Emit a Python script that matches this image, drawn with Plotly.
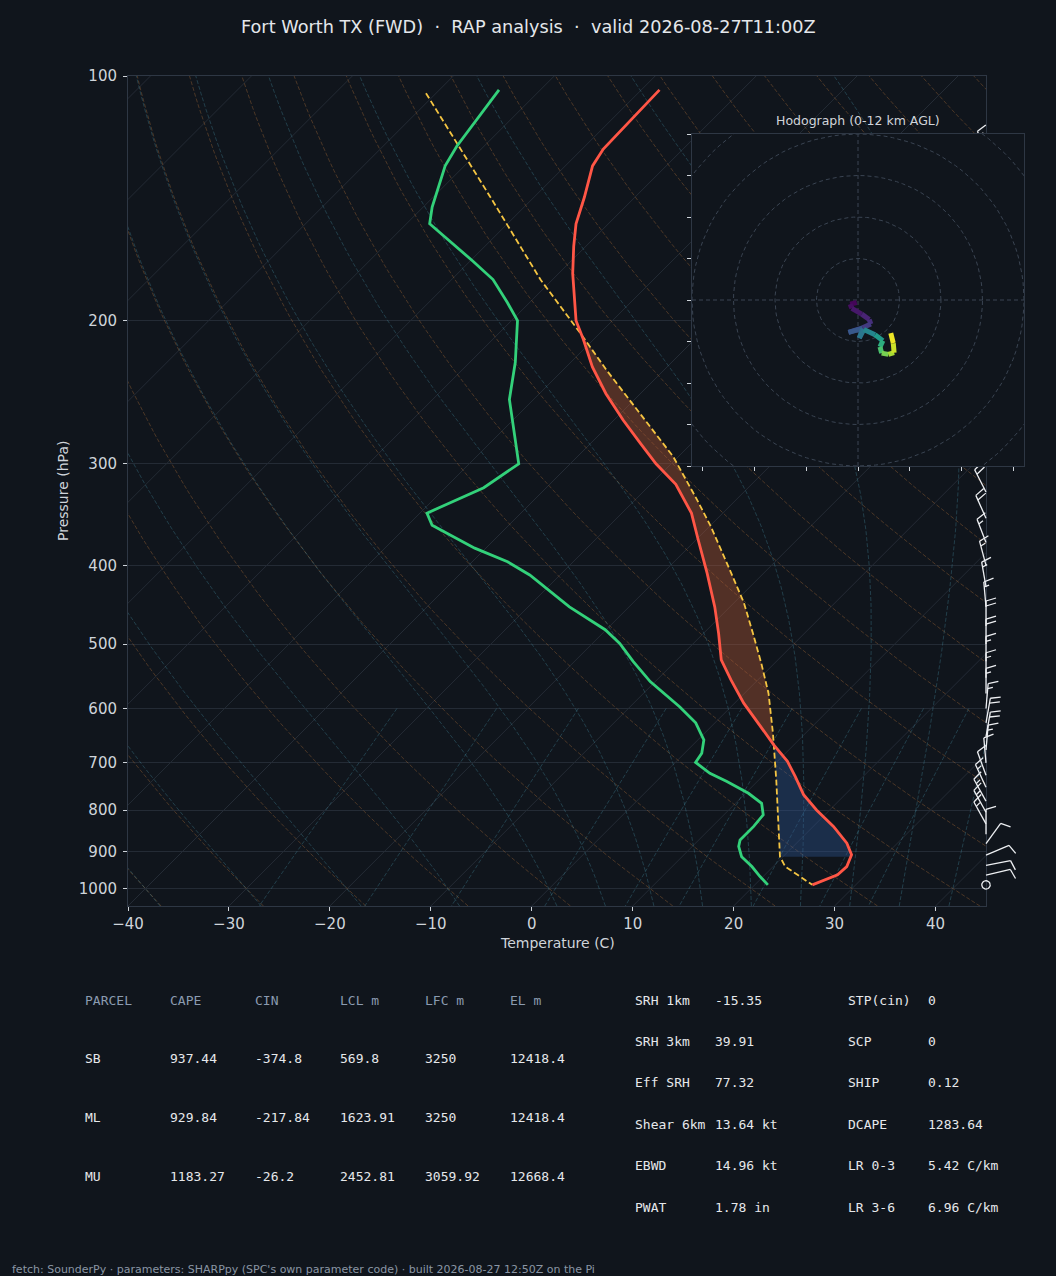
import numpy as np
import plotly.graph_objects as go
from plotly.colors import sample_colorscale

W, H = 1056, 1276
BG = "#10151c"
GRID = "#242b35"
SPINE = "#2e3744"
TICK = "#cfd4da"
SANS = "DejaVu Sans"
MONO = "DejaVu Sans Mono"

# pixel boxes of the skew-T, the barb strip and the hodograph inset
SK_L, SK_R, SK_T, SK_B = 128, 986, 76, 906
BARB_R = 1040
HO_L, HO_R, HO_T, HO_B = 692, 1024, 134, 466

T_MIN, T_MAX = -40, 45
P_BOT, P_TOP = 1050, 100
PX_PER_C = (SK_R - SK_L) / (T_MAX - T_MIN)
PX_PER_DEC = (SK_B - SK_T) / np.log10(P_BOT / P_TOP)
SKEW = PX_PER_DEC / PX_PER_C  # 45 degree isotherms

title = "Fort Worth TX (FWD)  ·  RAP analysis  ·  valid 2026-08-27T11:00Z"
footer = "fetch: SounderPy · parameters: SHARPpy (SPC's own parameter code) · built 2026-08-27 12:50Z on the Pi"

# sounding (hPa, deg C)
temp_p = [104, 123, 129, 141, 152, 162, 175, 187, 200, 211, 228, 246, 265, 283, 300, 318, 332, 345, 372, 409,
          450, 485, 523, 553, 591, 632, 665, 697, 728, 766, 800, 838, 879, 908, 939, 961, 989]
temp_c = [-68.2, -67.9, -67.3, -65.0, -63.2, -61.2, -58.6, -56.1, -53.6, -51.0, -47.4, -43.4, -39.1, -35.1, -31.5,
          -27.5, -25.2, -23.1, -19.8, -15.6, -11.5, -8.5, -5.6, -2.7, 0.9, 4.9, 8.0, 11.0, 13.3, 15.9, 18.7, 22.0,
          25.0, 26.6, 27.3, 27.2, 25.7]

dwpt_p = [104, 122, 129, 145, 152, 160, 169, 178, 190, 200, 225, 250, 300, 321, 345, 357, 381, 396, 411, 450,
          480, 499, 525, 556, 583, 597, 625, 656, 681, 699, 721, 738, 763, 785, 811, 838, 871, 887, 913, 939,
          966, 989]
dwpt_c = [-84.1, -82.7, -81.9, -79.1, -77.7, -73.8, -69.7, -65.9, -62.2, -59.4, -55.5, -52.4, -45.1, -46.2, -49.3,
          -47.6, -41.1, -36.5, -33.0, -25.9, -20.1, -17.3, -14.2, -10.5, -6.9, -5.1, -1.9, 0.6, 1.7, 2.0, 4.5, 7.0,
          10.3, 12.6, 13.9, 14.1, 14.1, 14.6, 15.9, 17.9, 19.7, 21.3]

parcel_p = [105, 142, 178, 207, 230, 260, 294, 332, 358, 405, 445, 485, 528, 575, 644, 734, 823, 913, 939, 989]
parcel_c = [-91.0, -73.9, -61.2, -52.0, -45.7, -38.1, -30.5, -23.9, -19.9, -13.7, -9.0, -5.1, -1.3, 2.4, 6.8,
            11.7, 15.9, 19.7, 21.2, 25.7]

# shading limits (hPa)
p_lcl, p_lfc, p_el = 913, 665, 211

# wind barbs (hPa, direction from, knots)
barb_p = [125, 150, 175, 200, 225, 250, 275, 300, 325, 350, 375, 400, 425, 450, 475, 500, 525, 550, 575, 600,
          625, 650, 675, 700, 725, 750, 780, 805, 832, 857, 880, 909, 936, 962, 989]
barb_dir = [340, 320, 315, 320, 330, 335, 330, 331, 333, 336, 339, 345, 350, 355, 0, 0, 0, 0, 0, 5,
            10, 10, 5, 355, 340, 335, 331, 331, 331, 0, 36, 67, 79, 77, 0]
barb_kt = [15, 20, 20, 20, 20, 20, 20, 20, 20, 20, 15, 15, 15, 15, 20, 20, 15, 15, 15, 15,
           20, 20, 15, 10, 10, 15, 15, 15, 15, 10, 10, 10, 10, 10, 0]

# hodograph trace (u, v) and height in km
hodo_u = [-0.3, -1.9, -1.5, 0.9, 2.7, 3.1, 1.1, -2.3, 1.1, 0.3, 1.4, 4.1, 6.0, 5.3, 5.7, 7.3, 8.7, 8.5, 7.9]
hodo_v = [-0.6, -1.0, -2.0, -3.4, -4.7, -5.8, -6.7, -7.8, -6.9, -9.2, -7.1, -8.4, -9.8, -11.3, -12.8, -13.1,
          -12.7, -10.4, -8.0]
hodo_z = [0, 0.3, 0.6, 1.0, 1.4, 1.8, 2.3, 3.0, 3.6, 4.5, 5.0, 6.0, 7.0, 8.0, 9.0, 10.0, 10.8, 11.4, 12.0]

# parameter tables
parcel_cols = ["PARCEL", "CAPE", "CIN", "LCL m", "LFC m", "EL m"]
parcel_names = ["SB", "ML", "MU"]
cape = [937.44, 929.84, 1183.27]
cin = [-374.8, -217.84, -26.2]
lcl_m = [569.8, 1623.91, 2452.81]
lfc_m = [3250, 3250, 3059.92]
el_m = [12418.4, 12418.4, 12668.4]
kin_labels = ["SRH 1km", "SRH 3km", "Eff SRH", "Shear 6km", "EBWD", "PWAT"]
kin_values = ["-15.35", "39.91", "77.32", "13.64 kt", "14.96 kt", "1.78 in"]
idx_labels = ["STP(cin)", "SCP", "SHIP", "DCAPE", "LR 0-3", "LR 3-6"]
idx_values = ["0", "0", "0.12", "1283.64", "5.42 C/km", "6.96 C/km"]


def skew(t, p):
    return np.asarray(t, float) + SKEW * (np.log10(P_BOT) - np.log10(np.asarray(p, float)))


def merge(lines):
    xs, ys = [], []
    for x, y in lines:
        xs += list(x) + [None]
        ys += list(y) + [None]
    return xs, ys


def t_at(ps, ts, p):
    return float(np.interp(np.log(p), np.log(ps), ts))


def inside(ps, ts, lo, hi):
    return [(p, t) for p, t in zip(ps, ts) if lo < p < hi]


fig = go.Figure()

# ---- background: isotherms, dry/moist adiabats, mixing ratio lines
iso = []
for t in range(-130, 50, 10):
    iso.append((skew([t, t], [P_BOT, P_TOP]), [P_BOT, P_TOP]))
xs, ys = merge(iso)
fig.add_trace(go.Scatter(x=xs, y=ys, mode="lines", line=dict(color=GRID, width=1), hoverinfo="skip"))

pp = np.geomspace(P_BOT, P_TOP, 80)
dry = []
for t0 in range(-40, 250, 10):
    tt = (t0 + 273.15) * (pp / 1000.0) ** 0.2857 - 273.15
    dry.append((skew(tt, pp), pp))
xs, ys = merge(dry)
fig.add_trace(go.Scatter(x=xs, y=ys, mode="lines", hoverinfo="skip",
                         line=dict(color="rgba(190,120,60,0.34)", width=1, dash="4px,2px")))


def moist_profile(t0c, pres):
    Rd, Cp, Lv, eps = 287.04, 1005.7, 2.501e6, 0.622

    def f(p, t):
        es = 6.112 * np.exp(17.67 * (t - 273.15) / (t - 29.65))
        rs = eps * es / (p - es)
        return (Rd * t + Lv * rs) / (Cp + Lv * Lv * rs * eps / (Rd * t * t)) / p

    out = [t0c + 273.15]
    t = t0c + 273.15
    for p0, p1 in zip(pres[:-1], pres[1:]):
        h = p1 - p0
        k1 = f(p0, t)
        k2 = f(p0 + h / 2, t + h * k1 / 2)
        k3 = f(p0 + h / 2, t + h * k2 / 2)
        k4 = f(p1, t + h * k3)
        t = t + h * (k1 + 2 * k2 + 2 * k3 + k4) / 6
        out.append(t)
    return np.array(out) - 273.15


p_up = np.linspace(1000, P_TOP, 181)
p_dn = np.linspace(1000, P_BOT, 6)
moist = []
for t0 in list(range(-40, 0, 10)) + list(range(0, 46, 5)):
    up = moist_profile(t0, p_up)
    dn = moist_profile(t0, p_dn)
    pm = np.concatenate([p_dn[::-1], p_up[1:]])
    tm = np.concatenate([dn[::-1], up[1:]])
    moist.append((skew(tm, pm), pm))
xs, ys = merge(moist)
fig.add_trace(go.Scatter(x=xs, y=ys, mode="lines", hoverinfo="skip",
                         line=dict(color="rgba(70,150,170,0.32)", width=1, dash="4px,2px")))

pw = np.linspace(600, P_BOT, 20)
mix = []
for w in [0.0004, 0.001, 0.002, 0.004, 0.007, 0.01, 0.016, 0.024, 0.032]:
    e = pw * w / (0.622 + w)
    lg = np.log(e / 6.112)
    td = 243.5 * lg / (17.67 - lg)
    mix.append((skew(td, pw), pw))
xs, ys = merge(mix)
fig.add_trace(go.Scatter(x=xs, y=ys, mode="lines", hoverinfo="skip",
                         line=dict(color="rgba(70,150,170,0.32)", width=1, dash="4px,2px")))

# ---- CAPE / CIN shading
cape_poly = ([(p_el, t_at(parcel_p, parcel_c, p_el))] + inside(parcel_p, parcel_c, p_el, p_lfc)
             + [(p_lfc, t_at(parcel_p, parcel_c, p_lfc))] + inside(temp_p, temp_c, p_el, p_lfc)[::-1])
cin_poly = ([(p_lfc, t_at(parcel_p, parcel_c, p_lfc))] + inside(parcel_p, parcel_c, p_lfc, p_lcl)
            + [(p_lcl, t_at(parcel_p, parcel_c, p_lcl)), (p_lcl, t_at(temp_p, temp_c, p_lcl))]
            + inside(temp_p, temp_c, p_lfc, p_lcl)[::-1])
for poly, col in [(cape_poly, "rgba(182,91,56,0.4)"), (cin_poly, "rgba(47,86,150,0.38)")]:
    pq = [q[0] for q in poly]
    tq = [q[1] for q in poly]
    fig.add_trace(go.Scatter(x=skew(tq, pq), y=pq, mode="lines", fill="toself", fillcolor=col,
                             line=dict(width=0), hoverinfo="skip"))

# ---- profiles
fig.add_trace(go.Scatter(x=skew(parcel_c, parcel_p), y=parcel_p, mode="lines",
                         line=dict(color="#f5c542", width=1.8, dash="6px,3px"), name="Parcel"))
fig.add_trace(go.Scatter(x=skew(dwpt_c, dwpt_p), y=dwpt_p, mode="lines",
                         line=dict(color="#33d17a", width=2.8), name="Dewpoint"))
fig.add_trace(go.Scatter(x=skew(temp_c, temp_p), y=temp_p, mode="lines",
                         line=dict(color="#ff5646", width=2.8), name="Temperature"))

# ---- wind barbs at the right edge (own overlay axes so they are not clipped at 45 C)
L, BH, BW, SP = 25.0, 10.0, 6.0, 5.0
bx, by = [], []


def add_seg(p0, pts):
    for dx, dy in pts:
        bx.append(T_MAX + dx / PX_PER_C)
        by.append(10 ** (np.log10(p0) - dy / PX_PER_DEC))
    bx.append(None)
    by.append(None)


for p0, d, s in zip(barb_p, barb_dir, barb_kt):
    s = 5 * round(s / 5)
    if s == 0:
        a = np.linspace(0, 2 * np.pi, 25)
        add_seg(p0, zip(4.2 * np.cos(a), 4.2 * np.sin(a)))
        continue
    ux, uy = np.sin(np.radians(d)), np.cos(np.radians(d))
    rx, ry = uy, -ux
    tx, ty = L * ux, L * uy
    add_seg(p0, [(0, 0), (tx, ty)])
    nfull, half = s // 10, (s % 10) >= 5
    off = 0.0
    for i in range(nfull):
        px, py = tx - off * ux, ty - off * uy
        add_seg(p0, [(px, py), (px + BH * rx + BW / 2 * ux, py + BH * ry + BW / 2 * uy)])
        off += SP
    if half:
        if nfull == 0:
            off = 1.5 * SP
        px, py = tx - off * ux, ty - off * uy
        add_seg(p0, [(px, py), (px + BH / 2 * rx + BW / 4 * ux, py + BH / 2 * ry + BW / 4 * uy)])

fig.add_trace(go.Scatter(x=bx, y=by, mode="lines", xaxis="x2", yaxis="y2",
                         line=dict(color="#eef0f3", width=1.3), hoverinfo="skip"))

# ---- hodograph inset
R = 40
fig.add_trace(go.Scatter(x=[-R, R, R, -R, -R], y=[-R, -R, R, R, -R], mode="lines", fill="toself",
                         fillcolor=BG, line=dict(width=0), xaxis="x3", yaxis="y3", hoverinfo="skip"))
ang = np.linspace(0, 2 * np.pi, 121)
rings = [(r * np.cos(ang), r * np.sin(ang)) for r in (10, 20, 30, 40, 50)]
rings += [([-R, R], [0, 0]), ([0, 0], [-R, R])]
xs, ys = merge(rings)
fig.add_trace(go.Scatter(x=xs, y=ys, mode="lines", xaxis="x3", yaxis="y3", hoverinfo="skip",
                         line=dict(color="#3a4452", width=1, dash="4px,3px")))
seg_cols = sample_colorscale("Viridis", [(hodo_z[i] + hodo_z[i + 1]) / 2 / 12 for i in range(len(hodo_z) - 1)])
for i in range(len(hodo_u) - 1):
    fig.add_trace(go.Scatter(x=hodo_u[i:i + 2], y=hodo_v[i:i + 2], mode="lines", xaxis="x3", yaxis="y3",
                             line=dict(color=seg_cols[i], width=5), hoverinfo="skip"))

# ---- text
ann = []


def note(x, y, text, size, color, family=SANS, xanchor="left", **kw):
    ann.append(dict(x=x / W, y=1 - y / H, xref="paper", yref="paper", text=text, showarrow=False,
                    xanchor=xanchor, yanchor="middle", font=dict(size=size, color=color, family=family), **kw))


note(W / 2, 27, title, 17.7, "#e4e7eb", xanchor="center")
note((SK_L + SK_R) / 2, 943, "Temperature (C)", 14, TICK, xanchor="center")
note(63, (SK_T + SK_B) / 2, "Pressure (hPa)", 14, TICK, xanchor="center", textangle=-90)
note((HO_L + HO_R) / 2, 120, "Hodograph (0-12 km AGL)", 12.5, "#d0d4da", xanchor="center")

HDR = "#8b9bb0"
VAL = "#e6e8eb"
for j, c in enumerate(parcel_cols):
    note(83 + 85 * j, 1000, c, 13, HDR, family=MONO)
for i, nm in enumerate(parcel_names):
    row = [nm, cape[i], cin[i], lcl_m[i], lfc_m[i], el_m[i]]
    for j, v in enumerate(row):
        note(83 + 85 * j, 1058 + 59 * i, str(v), 13, VAL, family=MONO)
for i in range(len(kin_labels)):
    yy = 1000 + 41.4 * i
    note(633, yy, kin_labels[i], 13, VAL, family=MONO)
    note(713, yy, kin_values[i], 13, VAL, family=MONO)
    note(846, yy, idx_labels[i], 13, VAL, family=MONO)
    note(926, yy, idx_values[i], 13, VAL, family=MONO)
note(10, 1269, footer, 11, "#8a95a4")

axis_common = dict(ticks="outside", ticklen=4, tickcolor=TICK, showline=True, mirror=True,
                   linecolor=SPINE, linewidth=1, zeroline=False, automargin=False)
fig.update_layout(
    width=W, height=H, margin=dict(l=0, r=0, t=0, b=0, pad=0, autoexpand=False),
    paper_bgcolor=BG, plot_bgcolor="rgba(0,0,0,0)", showlegend=False,
    font=dict(family=SANS, color=TICK),
    annotations=ann,
    xaxis=dict(domain=[SK_L / W, SK_R / W], range=[T_MIN, T_MAX], tickvals=list(range(-40, 41, 10)),
               tickfont=dict(size=15, color=TICK), showgrid=False, anchor="y", **axis_common),
    yaxis=dict(domain=[1 - SK_B / H, 1 - SK_T / H], type="log",
               range=[np.log10(P_BOT), np.log10(P_TOP)],
               tickvals=[100, 200, 300, 400, 500, 600, 700, 800, 900, 1000],
               ticktext=["100", "200", "300", "400", "500", "600", "700", "800", "900", "1000"],
               tickfont=dict(size=15, color=TICK), showgrid=True, gridcolor=GRID, gridwidth=1,
               anchor="x", ticklabelstandoff=3, **axis_common),
    xaxis2=dict(domain=[SK_L / W, BARB_R / W], range=[T_MIN, T_MIN + (BARB_R - SK_L) / PX_PER_C],
                visible=False, anchor="y2", automargin=False),
    yaxis2=dict(domain=[1 - SK_B / H, 1 - SK_T / H], type="log",
                range=[np.log10(P_BOT), np.log10(P_TOP)], visible=False, anchor="x2", automargin=False),
    xaxis3=dict(domain=[HO_L / W, HO_R / W], range=[-R, R], tickvals=[-37.5, -25, -12.5, 0, 12.5, 25, 37.5],
                showticklabels=False, showgrid=False, anchor="y3", **axis_common),
    yaxis3=dict(domain=[1 - HO_B / H, 1 - HO_T / H], range=[-R, R], tickvals=list(range(-40, 41, 10)),
                showticklabels=False, showgrid=False, anchor="x3", **axis_common),
)

# page without the default body margin, same dark background behind the figure
page_js = ("document.body.style.margin='0';document.body.style.background='" + BG + "';"
           "document.documentElement.style.overflow='hidden';")
fig.write_html("out.html", post_script=page_js, config={"displayModeBar": False})
